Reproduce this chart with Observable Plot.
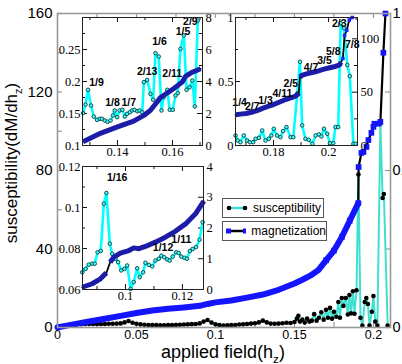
<!DOCTYPE html>
<html><head><meta charset="utf-8">
<script src="https://cdn.jsdelivr.net/npm/d3@7"></script>
<script src="https://cdn.jsdelivr.net/npm/@observablehq/plot@0.6"></script>
<style>
html,body{margin:0;padding:0;background:#fff;overflow:hidden;}
#wrap{position:relative;width:402px;height:364px;overflow:hidden;background:#fff;}
.lg{position:absolute;border:1px solid #555;background:#fff;box-sizing:border-box;font:12px 'Liberation Sans',Arial,sans-serif;display:flex;align-items:center;}
.lg svg{margin-left:3px;margin-right:5px;}
.ttl{position:absolute;font-family:'Liberation Sans',Arial,sans-serif;white-space:nowrap;color:#000;}
.ttl sub{font-size:65%;}
</style></head><body><div id="wrap"></div>
<script>
// ---------- main panel data ----------
const chiX = [0,0.0025,0.005,0.0075,0.01,0.0125,0.015,0.0175,0.02,0.0225,0.025,0.0275,0.03,0.0325,0.035,0.0375,0.04,0.0425,0.045,0.0475,0.05,0.0525,0.055,0.0575,0.06,0.0625,0.065,0.0675,0.07,0.0725,0.075,0.0775,0.08,0.0825,0.085,0.0875,0.09,0.0925,0.095,0.0975,0.1,0.1025,0.105,0.1075,0.11,0.1125,0.115,0.1175,0.12,0.1225,0.125,0.1275,0.13,0.1325,0.135,0.1375,0.14,0.1425,0.145,0.1475,0.15,
  0.1515,0.1525,0.1535,0.155,0.1565,0.158,0.1595,0.161,0.1625,0.164,0.1655,0.167,0.1685,0.17,0.1712,0.1725,0.1738,0.175,0.1765,0.1778,0.1788,0.18,0.181,0.1825,0.1838,0.1848,0.1858,0.187,0.188,0.1893,0.1905,0.1918,0.193,0.1945,0.1955,0.1965,0.1975,0.199,0.2,0.2012,0.2025,0.2044,0.2058,0.2066,0.209];
const chiV = [0.5,0.8,1.1,1.3,1.5,1.6,1.7,1.8,1.8,1.8,1.8,1.8,1.8,1.9,1.9,2,2.1,2.6,3.3,2.4,1.9,1.6,1.4,1.3,1.2,1.2,1.1,1.1,1.2,1.2,1.3,1.4,1.5,1.6,1.7,1.8,2.1,3,3.8,2.5,1.6,1.2,1,1.1,1.2,1.3,1.5,1.6,1.8,2,2.2,2.6,3.5,2.6,2,1.9,2,2.2,2.4,2.3,2.8,
  4.5,6,3,4,2.5,4.5,3,3.5,6.8,3.5,5,7.8,4,9,5,10,4.5,8,5.5,13,5,15,11,15,6.6,16.5,7.2,18.5,7,19,78,5,1,13,15,12,1,8,16,3,1,104,66,68,1];
const magX = [0,0.005,0.01,0.02,0.03,0.04,0.05,0.06,0.07,0.08,0.09,0.095,0.1,0.11,0.12,0.13,0.14,0.15,0.155,0.16,0.165,0.17,0.175,0.18,0.185,0.1904,0.1906,0.1924,0.1937,0.1956,0.1968,0.1987,0.2,0.2006,0.2032,0.2044,0.2063,0.2076];
const magV = [0,0.005,0.01,0.019,0.028,0.037,0.046,0.054,0.06,0.064,0.069,0.075,0.08,0.086,0.095,0.105,0.12,0.14,0.152,0.165,0.182,0.214,0.245,0.288,0.34,0.396,0.511,0.556,0.559,0.575,0.597,0.62,0.639,0.649,0.649,0.655,0.875,1.0];
const mainXTicks = [0,0.025,0.05,0.075,0.1,0.125,0.15,0.175,0.2];
const mainXLabels = [0,0.05,0.1,0.15,0.2];
const mainYTicks = [0,20,40,60,80,100,120,140,160];
const mainYLabels = [0,40,80,120,160];
const mainY2Ticks = [0,0.25,0.5,0.75,1];
const mainY2Labels = [0,0.5,1];
const legendNames = ["susceptibility","magnetization"];

// ---------- inset A (upper left) ----------
const aChiX = [0.1275,0.1284,0.1293,0.1304,0.1314,0.1326,0.1336,0.1344,0.1354,0.1364,0.1375,0.1384,0.139,0.1399,0.1408,0.1418,0.1427,0.1435,0.1445,0.1453,0.1462,0.1472,0.148,0.149,0.1496,0.1508,0.152,0.153,0.1538,0.155,0.156,0.1568,0.1581,0.159,0.1601,0.1611,0.1619,0.1629,0.1641,0.1651,0.1662,0.1672,0.1681,0.1692];
const aChiV = [2.02,2.56,3.48,2.5,1.81,1.6,1.67,1.67,1.56,1.48,1.56,1.88,2.19,1.77,2.19,2.23,1.81,1.98,2.08,2.19,2.23,2.14,2.19,2.08,3.96,4.1,3.23,2.86,5.77,5.56,2.19,3.02,3.48,2.23,2.23,3.13,3.27,6.04,6.88,3.48,3.64,4.06,2.44,7.81];
const aMagX = [0.1275,0.1338,0.14,0.1459,0.1496,0.152,0.1544,0.1556,0.1581,0.1605,0.1635,0.1647,0.1672,0.1702];
const aMagV = [0.106,0.119,0.129,0.138,0.147,0.155,0.168,0.175,0.182,0.189,0.199,0.208,0.2145,0.22];
const aLab = ["1/9","1/8","1/7","2/13","1/6","2/11","1/5","2/9"];
const aLabX = [0.1324,0.1382,0.1441,0.1508,0.1553,0.1599,0.1638,0.1665];
const aLabY = [0.1989,0.1672,0.1667,0.2156,0.263,0.212,0.2777,0.2937];

// ---------- inset B (upper right) ----------
const bChiX = [0.1662,0.167,0.168,0.1692,0.1704,0.1714,0.1726,0.1735,0.1747,0.1759,0.1771,0.1783,0.1792,0.1801,0.1813,0.1825,0.1835,0.1847,0.1862,0.1872,0.1886,0.1896,0.1904,0.1916,0.1928,0.1941,0.1953,0.1965,0.1974,0.1983,0.1995,0.2005,0.2017,0.2025,0.2035,0.2044,0.2056,0.2068,0.2077,0.209,0.2098];
const bChiV = [9.4,4.7,3.1,9.4,4.7,3.1,3.1,6.3,7.2,14.1,4.7,6.3,9.4,15.7,9.4,7.8,13.5,17.3,7.8,7.8,48.7,78.5,18.9,6.3,5.3,1.6,9.4,10.4,8.5,15.7,11,2.2,2.2,17.3,17.3,114.7,110,75.4,65,1.6,1.6];
const bMagX = [0.1662,0.168,0.17,0.172,0.174,0.176,0.178,0.18,0.182,0.184,0.186,0.188,0.1888,0.1892,0.1896,0.1905,0.192,0.194,0.196,0.198,0.2,0.202,0.204,0.2045,0.2052,0.2058,0.2066,0.2075,0.2086];
const bMagV = [0.24,0.245,0.25,0.26,0.272,0.29,0.305,0.32,0.338,0.356,0.37,0.385,0.4,0.41,0.535,0.55,0.56,0.57,0.58,0.595,0.605,0.615,0.63,0.65,0.68,0.86,0.9,0.98,1.0];
const bLab = ["1/4","2/7","1/3","4/11","2/5","4/7","3/5","5/8","2/3","7/8"];
const bLabX = [0.1677,0.1723,0.1771,0.1832,0.1863,0.1936,0.1985,0.2017,0.2039,0.2086];
const bLabY = [0.336,0.305,0.352,0.404,0.487,0.612,0.664,0.737,0.956,0.789];

// ---------- inset C (lower left) ----------
const cChiX = [0.0848,0.086,0.0871,0.0883,0.0892,0.0902,0.0913,0.0924,0.0933,0.0945,0.0953,0.0965,0.0974,0.0985,0.0996,0.1006,0.1018,0.1029,0.1041,0.105,0.1062,0.107,0.1082,0.1094,0.1105,0.1117,0.1126,0.1136,0.1146,0.1155,0.1166,0.1178,0.1187,0.1196,0.1207,0.1216,0.1226,0.1236,0.1248,0.126,0.1271];
const cChiV = [0.56,0.67,0.81,0.84,0.84,1.21,1.25,2.79,3.14,1.49,1.16,1.0,0.89,0.62,0.67,0.78,0.02,0.24,0.69,0.4,0.56,0.87,0.8,0.75,0.94,1.0,1.1,1.05,0.98,0.94,1.07,1.21,1.19,1.07,1.03,1.0,1.25,1.32,1.38,1.62,2.19];
const cMagX = [0.0848,0.0883,0.0912,0.0933,0.0946,0.0959,0.0982,0.1012,0.1029,0.1047,0.107,0.1105,0.114,0.1175,0.1211,0.1246,0.1275];
const cMagV = [0.0611,0.0628,0.0652,0.0682,0.0733,0.0758,0.0777,0.079,0.0803,0.0799,0.081,0.0831,0.0855,0.0884,0.092,0.0969,0.1031];
const cLab = ["1/16","1/12","1/11"];
const cLabX = [0.0971,0.1132,0.1196];
const cLabY = [0.1145,0.0803,0.0844];

// ---------- drawing ----------
const wrap = document.getElementById("wrap");
function place(el, left, top){ el.style.position="absolute"; el.style.left=left+"px"; el.style.top=top+"px"; wrap.appendChild(el); }
const SANS = "'Liberation Sans', Arial, sans-serif";
const SERIF = "'Liberation Serif', 'Times New Roman', serif";
const TURQ = "#40E0D0", BLUE = "#1414ff";

// main
{
  const W=402,H=364,mL=57,mT=13,mR=12,mB=37;
  const iw=W-mL-mR, ih=H-mT-mB, K=160;
  const chi = chiX.map((x,i)=>({x, v:chiV[i]}));
  const mag = magX.map((x,i)=>({x, v:magV[i]*K}));
  const gray="#999";
  const p = Plot.plot({
    width:W, height:H, marginLeft:mL, marginTop:mT, marginRight:mR, marginBottom:mB,
    x:{domain:[0,0.2108]}, y:{domain:[0,160]},
    style:{fontFamily:SANS, background:"transparent", color:"#000"},
    marks:[
      Plot.ruleX(mainXTicks,{x:d=>d, insetTop:ih-5, stroke:gray, strokeWidth:1.2}),
      Plot.ruleX(mainXTicks,{x:d=>d, insetBottom:ih-5, stroke:gray, strokeWidth:1.2}),
      Plot.ruleY(mainYTicks,{y:d=>d, insetRight:iw-5, stroke:gray, strokeWidth:1.2}),
      Plot.ruleY(mainY2Ticks.map(t=>t*K),{y:d=>d, insetLeft:iw-5, stroke:gray, strokeWidth:1.2}),
      Plot.axisX(mainXLabels,{tickSize:0, tickPadding:3, fontSize:12.5, label:null, tickFormat:d=>String(d)}),
      Plot.axisY(mainYLabels,{tickSize:0, tickPadding:5, fontSize:15, label:null, tickFormat:d=>String(d)}),
      Plot.axisY(mainY2Labels.map(t=>t*K),{anchor:"right", tickSize:0, tickPadding:2, fontSize:14.5, label:null, tickFormat:d=>String(d/K)}),
      Plot.line(chi,{x:"x", y:"v", stroke:TURQ, strokeWidth:2}),
      Plot.dot(chi,{x:"x", y:"v", fill:"#000", r:2.3}),
      Plot.line(mag,{x:"x", y:"v", stroke:"#000", strokeWidth:2.2}),
      Plot.line(mag.filter(d=>d.x<0.1905),{x:"x", y:"v", stroke:BLUE, strokeWidth:6}),
      Plot.dot(mag.filter(d=>d.x>=0.17),{x:"x", y:"v", symbol:"square", fill:BLUE, r:3.2}),
      Plot.frame({stroke:gray, strokeWidth:1.6})
    ]
  });
  place(p,0,0);
}

function makeInset(c){
  const padL=40,padT=12,padR=30,padB=22;
  const iw=c.R-c.L, ih=c.B-c.T;
  const W=iw+padL+padR, H=ih+padT+padB;
  const [y0,y1]=c.yd, [r0,r1]=c.y2d;
  const f2 = v => y0 + (v-r0)/(r1-r0)*(y1-y0);
  const inv2 = y => r0 + (y-y0)/(y1-y0)*(r1-r0);
  const chi = c.chiX.map((x,i)=>({x, v:f2(c.chiV[i])}));
  const mag = c.magX.map((x,i)=>({x, v:c.magV[i]}));
  const labs = c.lab.map((t,i)=>({t, x:c.labX[i], y:c.labY[i]}));
  const seg = d => c.breaks.filter(t=>t<d.x).length;
  const tk="#111", NAVY="#1c1ca8";
  const p = Plot.plot({
    width:W, height:H, marginLeft:padL, marginTop:padT, marginRight:padR, marginBottom:padB,
    x:{domain:c.xd}, y:{domain:c.yd},
    style:{fontFamily:SERIF, background:"transparent", color:"#000", overflow:"visible"},
    marks:[
      Plot.frame({fill:"white"}),
      Plot.ruleX(c.xMaj,{x:d=>d, insetTop:ih-5, stroke:tk}),
      Plot.ruleX(c.xMaj,{x:d=>d, insetBottom:ih-5, stroke:tk}),
      Plot.ruleX(c.xMin,{x:d=>d, insetTop:ih-3, stroke:tk}),
      Plot.ruleX(c.xMin,{x:d=>d, insetBottom:ih-3, stroke:tk}),
      Plot.ruleY(c.yMaj,{y:d=>d, insetRight:iw-5, stroke:tk}),
      Plot.ruleY(c.yMin,{y:d=>d, insetRight:iw-3, stroke:tk}),
      Plot.ruleY(c.y2Maj.map(f2),{y:d=>d, insetLeft:iw-5, stroke:tk}),
      Plot.ruleY(c.y2Min.map(f2),{y:d=>d, insetLeft:iw-3, stroke:tk}),
      Plot.axisX(c.xLab,{tickSize:0, tickPadding:2, fontSize:12.5, label:null, tickFormat:d=>String(d)}),
      Plot.axisY(c.yLab,{tickSize:0, tickPadding:2, fontSize:12.5, label:null, tickFormat:d=>String(d)}),
      Plot.axisY(c.y2Lab.map(f2),{anchor:"right", tickSize:0, tickPadding:3, fontSize:12.5, label:null, tickFormat:d=>String(+inv2(d).toFixed(6))}),
      Plot.line(chi,{x:"x", y:"v", stroke:"#00ffff", strokeWidth:2.6}),
      Plot.dot(chi,{x:"x", y:"v", r:1.8, stroke:"#0c3c3c", strokeWidth:0.9, fill:"#40ffff"}),
      Plot.line(mag,{x:"x", y:"v", stroke:"#000", strokeWidth:1.8}),
      Plot.line(mag.filter(d=>d.x<=c.bandEnd),{x:"x", y:"v", z:seg, stroke:NAVY, strokeWidth:5, strokeLinecap:"butt"}),
      Plot.dot(mag.filter(d=>d.x>c.bandEnd),{x:"x", y:"v", symbol:"square", r:2, fill:"#2020ff"}),
      Plot.text(labs,{x:"x", y:"y", text:"t", fontFamily:SANS, fontWeight:"bold", fontSize:10.5, fill:"#000"}),
      Plot.frame({stroke:"#222", strokeWidth:1})
    ]
  });
  place(p, c.L-padL, c.T-padT);
}

makeInset({L:82,T:17,R:202,B:145, xd:[0.1273,0.1709], yd:[0.1,0.3], y2d:[0,8],
  xMaj:[0.14,0.16], xMin:[0.13,0.15,0.17], yMaj:[0.1,0.15,0.2,0.25,0.3], yMin:[0.125,0.175,0.225,0.275],
  y2Maj:[0,2,4,6,8], y2Min:[1,3,5,7], xLab:[0.14,0.16], yLab:[0.1,0.15,0.2,0.25], y2Lab:[0,2,4,6,8],
  chiX:aChiX, chiV:aChiV, magX:aMagX, magV:aMagV, lab:aLab, labX:aLabX, labY:aLabY, breaks:[], bandEnd:1});

makeInset({L:82,T:166,R:203,B:289, xd:[0.0849,0.1274], yd:[0.06,0.12], y2d:[0,4],
  xMaj:[0.1,0.12], xMin:[0.09,0.11], yMaj:[0.06,0.08,0.1,0.12], yMin:[0.07,0.09,0.11],
  y2Maj:[0,1,2,3,4], y2Min:[], xLab:[0.1,0.12], yLab:[0.06,0.08,0.1,0.12], y2Lab:[0,1,2,3,4],
  chiX:cChiX, chiV:cChiV, magX:cMagX, magV:cMagV, lab:cLab, labX:cLabX, labY:cLabY, breaks:[0.094], bandEnd:1});

makeInset({L:235,T:17,R:357,B:145, xd:[0.1662,0.2105], yd:[0,1], y2d:[0,120],
  xMaj:[0.18,0.2], xMin:[0.17,0.19,0.21], yMaj:[0,0.5,1], yMin:[0.25,0.75],
  y2Maj:[0,50,100], y2Min:[25,75], xLab:[0.18,0.2], yLab:[0,0.5,1], y2Lab:[0,50,100],
  chiX:bChiX, chiV:bChiV, magX:bMagX, magV:bMagV, lab:bLab, labX:bLabX, labY:bLabY, breaks:[0.1894], bandEnd:0.2046});

// legend
function legendBox(left, top, w, kind, name){
  const d=document.createElement("div"); d.className="lg";
  d.style.left=left+"px"; d.style.top=top+"px"; d.style.width=w+"px"; d.style.height="20px";
  const s = kind===0
    ? `<svg width="22" height="12"><line x1="3" x2="19" y1="6" y2="6" stroke="${TURQ}" stroke-width="2.5"/><circle cx="3" cy="6" r="2.3" fill="#000"/><circle cx="19" cy="6" r="2.3" fill="#000"/></svg>`
    : `<svg width="22" height="12"><line x1="3" x2="19" y1="6" y2="6" stroke="#000" stroke-width="2.5"/><rect x="0" y="3.5" width="5" height="5" fill="${BLUE}"/><rect x="17" y="3.5" width="5" height="5" fill="${BLUE}"/></svg>`;
  d.innerHTML = s + `<span>${name}</span>`;
  wrap.appendChild(d);
}
legendBox(222,198,102,0,legendNames[0]);
legendBox(222,221,105,1,legendNames[1]);

// axis titles
const xt=document.createElement("div"); xt.className="ttl";
xt.style.cssText+="left:123px;top:343px;width:200px;text-align:center;font-size:18px;line-height:18px;";
xt.innerHTML="applied field(h<sub>z</sub>)"; wrap.appendChild(xt);
const yt=document.createElement("div"); yt.className="ttl";
yt.style.cssText+="left:15px;top:163px;font-size:17px;line-height:17px;transform:translate(-50%,-50%) rotate(-90deg);";
yt.innerHTML="susceptibility(dM/dh<sub>z</sub>)"; wrap.appendChild(yt);
</script></body></html>
